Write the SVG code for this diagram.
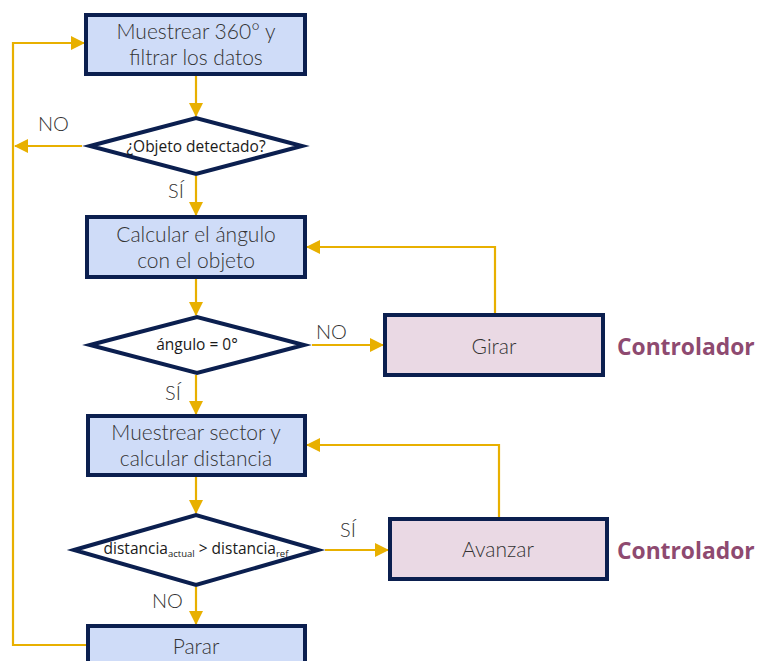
<svg xmlns="http://www.w3.org/2000/svg" width="758" height="661" viewBox="0 0 758 661">
  <style>
    .proc { fill: #cfdcf8; stroke: #0b1f4f; stroke-width: 4; }
    .act { fill: #ead9e4; stroke: #0b1f4f; stroke-width: 4; }
    .dec { fill: #ffffff; stroke: #0b1f4f; stroke-width: 4; stroke-linejoin: miter; stroke-miterlimit: 10; }
    .t { font-family: Lato, "Liberation Sans", sans-serif; font-size: 21px; font-weight: 300; fill: #333333; text-anchor: middle; }
    .dt { font-family: "Open Sans", "Liberation Sans", sans-serif; font-size: 15.5px; fill: #1a1a1a; text-anchor: middle; }
    .lbl { font-family: Lato, "Liberation Sans", sans-serif; font-size: 20px; font-weight: 300; fill: #333333; }
    .ctl { font-family: "Open Sans", "Liberation Sans", sans-serif; font-size: 22.8px; font-weight: bold; fill: #8e4a70; }
    .wire { fill: none; stroke: #e8b000; stroke-width: 2.2; marker-end: url(#arrow); }
  </style>
  <defs>
    <marker id="arrow" markerUnits="userSpaceOnUse" markerWidth="14" markerHeight="14" viewBox="0 0 14 14" refX="13" refY="7" orient="auto">
      <path d="M0,0 L14,7 L0,14 Z" fill="#e8b000"/>
    </marker>
  </defs>

  <g id="connectors">
    <path class="wire" d="M196,76 V116"/>
    <path class="wire" d="M82,146 H15"/>
    <path class="wire" d="M196,176 V215"/>
    <path class="wire" d="M196,279 V315"/>
    <path class="wire" d="M312,345 H383"/>
    <path class="wire" d="M495,313 V247 H307"/>
    <path class="wire" d="M196,375 V414"/>
    <path class="wire" d="M196,477 V513"/>
    <path class="wire" d="M325,550 H388"/>
    <path class="wire" d="M499,517 V445 H307"/>
    <path class="wire" d="M196,587 V624"/>
    <path class="wire" d="M86,645 H13 V43 H84"/>
  </g>

  <g id="muestrear360">
    <rect class="proc" x="86" y="15" width="219" height="59"/>
    <text class="t" x="196" y="39">Muestrear 360° y</text>
    <text class="t" x="196" y="65">filtrar los datos</text>
  </g>

  <g id="objetoDetectado">
    <polygon class="dec" points="90,146 196,118 302,146 196,174"/>
    <text class="dt" x="196" y="152">¿Objeto detectado?</text>
  </g>

  <g id="calcularAngulo">
    <rect class="proc" x="87" y="217" width="218" height="60"/>
    <text class="t" x="196" y="242">Calcular el ángulo</text>
    <text class="t" x="196" y="268">con el objeto</text>
  </g>

  <g id="anguloCero">
    <polygon class="dec" points="90,345 197,317 304,345 197,373"/>
    <text class="dt" x="197" y="350">ángulo = 0°</text>
  </g>

  <g id="girar">
    <rect class="act" x="385" y="315" width="218" height="60"/>
    <text class="t" x="494" y="354">Girar</text>
  </g>

  <g id="muestrearSector">
    <rect class="proc" x="88" y="416" width="217" height="59"/>
    <text class="t" x="196" y="440">Muestrear sector y</text>
    <text class="t" x="196" y="466">calcular distancia</text>
  </g>

  <g id="compararDistancia">
    <polygon class="dec" points="74,550 196,515 318,550 196,585"/>
    <text class="dt" x="196" y="554" font-size="14">distancia<tspan font-size="9.5" dy="3">actual</tspan><tspan dy="-3"> &gt; distancia</tspan><tspan font-size="9.5" dy="3">ref</tspan></text>
  </g>

  <g id="avanzar">
    <rect class="act" x="390" y="519" width="217" height="60"/>
    <text class="t" x="498" y="557">Avanzar</text>
  </g>

  <g id="parar">
    <rect class="proc" x="88" y="626" width="217" height="60"/>
    <text class="t" x="196" y="654">Parar</text>
  </g>

  <g id="etiquetas">
    <text class="lbl" x="38" y="131">NO</text>
    <text class="lbl" x="168" y="198">SÍ</text>
    <text class="lbl" x="316" y="339">NO</text>
    <text class="lbl" x="165" y="400">SÍ</text>
    <text class="lbl" x="340" y="537">SÍ</text>
    <text class="lbl" x="152" y="608">NO</text>
    <text class="ctl" x="617" y="355">Controlador</text>
    <text class="ctl" x="617" y="559">Controlador</text>
  </g>
</svg>
